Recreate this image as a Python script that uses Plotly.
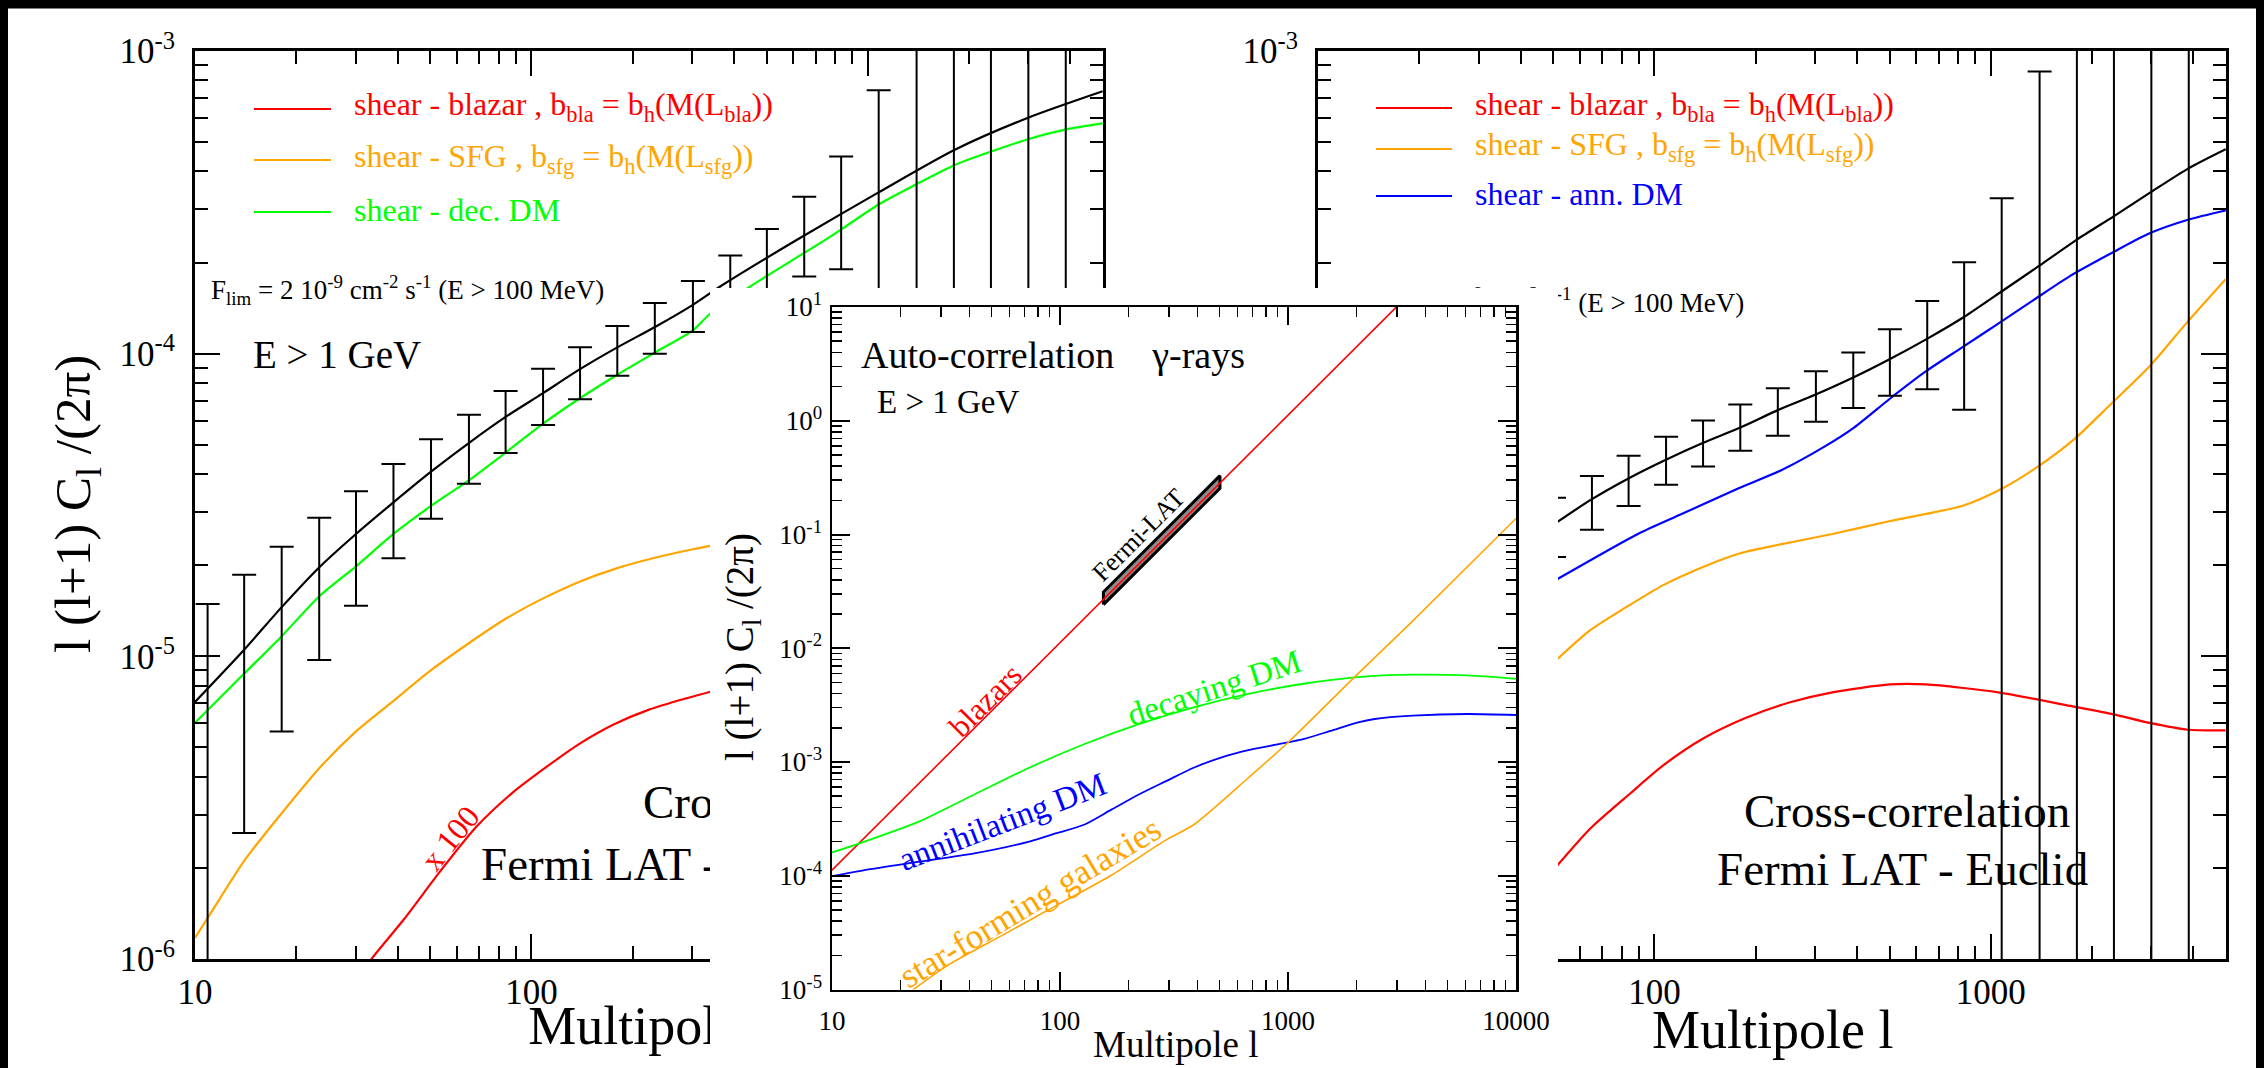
import numpy as np
import plotly.graph_objects as go

W, H = 2264, 1068
FONT = "Liberation Serif, Times New Roman, serif"
RED, ORANGE, GREEN, BLUE, BLACK = "#ff0000", "#ffa500", "#00ff00", "#0000ff", "#000000"

# ---------------- data : left panel (shear x decaying DM) ----------------
ell_bins = [10.9, 14.0, 18.1, 23.4, 30.1, 38.9, 50.3, 65.2, 83.8, 108.3, 139.5, 180.0,
            232.7, 302.0, 390.0, 501.0, 647.0, 833.0, 1077.0, 1396.0, 1802.0, 2322.0,
            3000.0, 3875.0]
left_err_top = [1.49e-5, 1.86e-5, 2.30e-5, 2.87e-5, 3.51e-5, 4.32e-5, 5.21e-5, 6.28e-5,
                7.53e-5, 8.91e-5, 1.05e-4, 1.234e-4, 1.469e-4, 1.739e-4, 2.11e-4, 2.58e-4,
                3.30e-4, 4.48e-4, 7.42e-4, 1e-2, 1e-2, 1e-2, 1e-2, 1e-2]
left_err_bot = [1e-8, 2.61e-6, 5.65e-6, 9.73e-6, 1.47e-5, 2.11e-5, 2.85e-5, 3.72e-5,
                4.70e-5, 5.81e-5, 7.07e-5, 8.46e-5, 1.00e-4, 1.18e-4, 1.38e-4, 1.6e-4,
                1.8e-4, 1.9e-4, 1e-8, 1e-8, 1e-8, 1e-8, 1e-8, 1e-8]

left_tot_l = [10, 14.0, 18.1, 23.3, 30.1, 38.9, 50.3, 65.3, 83.6, 108, 139, 180, 233,
              302, 363, 614, 1076, 1807, 3008, 4989]
left_tot_c = [7.07e-6, 1.052e-5, 1.454e-5, 1.959e-5, 2.537e-5, 3.227e-5, 4.075e-5, 5.077e-5,
              6.17e-5, 7.39e-5, 8.87e-5, 1.049e-4, 1.225e-4, 1.45e-4, 1.664e-4,
              2.374e-4, 3.41e-4, 4.71e-4, 6.03e-4, 7.36e-4]

left_dm_l = [10, 14, 18.1, 23.3, 30.1, 38.9, 50.3, 65.3, 83.6, 108, 139, 180, 233, 302, 339,
             446, 737, 832, 1076, 1398, 1807, 2325, 3008, 3887, 4989]
left_dm_c = [6.03e-6, 8.77e-6, 1.166e-5, 1.571e-5, 1.983e-5, 2.537e-5, 3.14e-5, 3.82e-5,
             4.70e-5, 5.86e-5, 7.11e-5, 8.52e-5, 1.009e-4, 1.194e-4, 1.352e-4, 1.665e-4,
             2.355e-4, 2.57e-4, 3.112e-4, 3.636e-4, 4.195e-4, 4.653e-4, 5.121e-4, 5.508e-4,
             5.768e-4]

left_sfg_l = [10, 10.87, 14, 18.1, 23.3, 30.1, 38.9, 50.3, 65.3, 83.6, 108, 139, 180, 233,
              302, 350]
left_sfg_c = [1.175e-6, 1.358e-6, 2.109e-6, 3.031e-6, 4.246e-6, 5.648e-6, 7.129e-6, 9.00e-6,
              1.107e-5, 1.328e-5, 1.551e-5, 1.765e-5, 1.957e-5, 2.117e-5, 2.258e-5, 2.33e-5]

left_bla_l = [30.0, 33.5, 41.9, 53.6, 68.6, 87.8, 112.4, 137.0, 175.5, 224.6, 287.6, 350]
left_bla_c = [8.5e-7, 1.002e-6, 1.358e-6, 1.951e-6, 2.734e-6, 3.54e-6, 4.36e-6, 5.09e-6,
              5.95e-6, 6.68e-6, 7.26e-6, 7.7e-6]

# ---------------- data : right panel (shear x annihilating DM) ----------------
right_bins = ell_bins[6:]
right_err_top = [3.34e-5, 3.94e-5, 4.60e-5, 5.31e-5, 6.01e-5, 6.79e-5, 7.69e-5, 8.75e-5,
                 1.009e-4, 1.203e-4, 1.492e-4, 2.005e-4, 3.264e-4, 8.555e-4, 1e-2, 1e-2,
                 1e-2, 1e-2]
right_err_bot = [2.13e-5, 2.62e-5, 3.14e-5, 3.69e-5, 4.24e-5, 4.78e-5, 5.36e-5, 5.96e-5,
                 6.61e-5, 7.26e-5, 7.63e-5, 6.53e-5, 1e-8, 1e-8, 1e-8, 1e-8, 1e-8, 1e-8]

right_tot_l = [51.5, 64.1, 83.7, 108.2, 139.7, 180, 232, 299, 387, 500, 646, 834, 1079, 1394,
               1793, 2318, 2981, 3856, 4990]
right_tot_c = [2.78e-5, 3.268e-5, 3.87e-5, 4.462e-5, 5.077e-5, 5.70e-5, 6.496e-5, 7.296e-5,
               8.307e-5, 9.583e-5, 1.119e-4, 1.324e-4, 1.608e-4, 1.953e-4, 2.373e-4, 2.843e-4,
               3.41e-4, 4.088e-4, 4.738e-4]

right_dm_l = [51.5, 89.3, 120, 178, 239, 322, 392, 502, 642, 822, 1052, 1345, 1722, 2316,
              2964, 3856, 4990]
right_dm_c = [1.80e-5, 2.537e-5, 2.947e-5, 3.589e-5, 4.128e-5, 4.95e-5, 5.70e-5, 7.11e-5,
              8.75e-5, 1.049e-4, 1.257e-4, 1.508e-4, 1.807e-4, 2.168e-4, 2.499e-4, 2.771e-4,
              2.972e-4]

right_sfg_l = [51.5, 64.6, 82.9, 106.6, 140, 180, 239, 338, 502, 825, 1077, 1380, 1767, 2255,
               2969, 3808, 4990]
right_sfg_c = [9.8e-6, 1.222e-5, 1.459e-5, 1.722e-5, 1.978e-5, 2.191e-5, 2.348e-5, 2.537e-5,
               2.801e-5, 3.144e-5, 3.578e-5, 4.236e-5, 5.21e-5, 6.754e-5, 9.10e-5, 1.259e-4,
               1.761e-4]

right_bla_l = [51.5, 64.6, 84.9, 106.6, 140, 187.3, 251.6, 338, 502, 642, 1052, 1722, 2316,
               2964, 3856, 4990]
right_bla_c = [2.04e-6, 2.704e-6, 3.53e-6, 4.377e-6, 5.362e-6, 6.264e-6, 7.036e-6, 7.605e-6,
               8.075e-6, 8.075e-6, 7.605e-6, 6.857e-6, 6.43e-6, 6.026e-6, 5.722e-6, 5.692e-6]

# ---------------- data : inset (auto-correlation) ----------------
auto_bla_l = [10, 100, 1000, 3000]
auto_bla_c = [1.12e-4, 1.12e-2, 1.12, 10.08]
fermi_l = [155, 503]
fermi_lo = [0.0242, 0.2550]
fermi_hi = [0.0312, 0.3290]

auto_dec_l = [10, 13.9, 24.2, 42.1, 73.3, 127.4, 221.7, 385.6, 670, 1165, 2028, 3527, 6137, 10000]
auto_dec_c = [1.605e-4, 1.998e-4, 3.006e-4, 5.176e-4, 8.907e-4, 1.433e-3, 2.154e-3, 3.027e-3,
              3.972e-3, 4.873e-3, 5.581e-3, 5.858e-3, 5.775e-3, 5.39e-3]

auto_ann_l = [10, 13.9, 24.2, 42.1, 73.3, 96.6, 127.4, 168, 221.7, 292, 385.6, 508, 670, 833,
              1165, 1538, 2028, 2397, 3527, 6137, 10000]
auto_ann_c = [9.91e-5, 1.121e-4, 1.329e-4, 1.572e-4, 1.998e-4, 2.367e-4, 2.806e-4, 3.811e-4,
              5.176e-4, 6.79e-4, 8.907e-4, 1.093e-3, 1.27e-3, 1.385e-3, 1.586e-3, 1.88e-3,
              2.23e-3, 2.388e-3, 2.553e-3, 2.642e-3, 2.589e-3]

auto_sfg_l = [20.0, 22.3, 31.9, 55.5, 96.6, 168, 292, 385.6, 670, 1000, 1977, 3527, 10000]
auto_sfg_c = [8.3e-6, 9.70e-6, 1.614e-5, 2.975e-5, 5.486e-5, 1.011e-4, 2.065e-4, 2.806e-4,
              7.27e-4, 1.483e-3, 5.69e-3, 1.738e-2, 1.384e-1]

main_xticks = [10, 100, 1000]
main_yticks = [1e-6, 1e-5, 1e-4, 1e-3]
main_ytext = ["10<sup>-6</sup>", "10<sup>-5</sup>", "10<sup>-4</sup>", "10<sup>-3</sup>"]
inset_xticks = [10, 100, 1000, 10000]
inset_yticks = [1e-5, 1e-4, 1e-3, 1e-2, 1e-1, 1, 10]
inset_ytext = ["10<sup>-5</sup>", "10<sup>-4</sup>", "10<sup>-3</sup>", "10<sup>-2</sup>",
               "10<sup>-1</sup>", "10<sup>0</sup>", "10<sup>1</sup>"]

# ---------------- layout geometry (pixels) ----------------
LEFT_X = (195, 1103)
RIGHT_X = (1318, 2226)
MAIN_Y = (51, 959)
TITLE_Y = (962, H)          # strip under the left panel holding its x title
INSET_X = (832, 1516)
INSET_Y = (307, 989.5)
BOX_X = (710, 1558)
BOX_Y = (288, H)
LMAX = np.log10(5000)


def fx(p):
    return p / W


def fy(p):
    return 1 - p / H


def minor_vals(decades, upto=10):
    out = []
    for d in decades:
        for k in range(2, 10):
            if k * d <= upto:
                out.append(k * d)
    return out


fig = go.Figure()


def line(x, y, color, width, xa, ya, smooth=True):
    fig.add_trace(go.Scatter(x=x, y=y, mode="lines",
                             line=dict(color=color, width=width,
                                       shape="spline" if smooth else "linear", smoothing=0.7),
                             xaxis=xa, yaxis=ya, showlegend=False, hoverinfo="skip"))


def errbars(ls, tops, bots, xa, ya):
    tops = np.array(tops)
    bots = np.array(bots)
    mid = np.sqrt(tops * bots)
    fig.add_trace(go.Scatter(
        x=ls, y=mid, mode="markers", marker=dict(size=1, color="rgba(0,0,0,0)"),
        error_y=dict(type="data", symmetric=False, array=tops - mid, arrayminus=mid - bots,
                     color=BLACK, thickness=2, width=12),
        xaxis=xa, yaxis=ya, showlegend=False, hoverinfo="skip"))


def lx_main(p, x0):
    return 10 ** (1 + (p - x0) / 908.0 * (LMAX - 1))


def cy_main(p):
    return 10 ** (-3 - (p - MAIN_Y[0]) / (MAIN_Y[1] - MAIN_Y[0]) * 3)


def ptext(x, y, text, size, color, xa, ya, pos="middle right"):
    fig.add_trace(go.Scatter(x=[x], y=[y], mode="text", text=[text],
                             textposition=pos, cliponaxis=False,
                             textfont=dict(family=FONT, size=size, color=color),
                             xaxis=xa, yaxis=ya, showlegend=False, hoverinfo="skip"))


# ---- left panel traces (subplot xy) ----
line(left_sfg_l, left_sfg_c, ORANGE, 2.2, "x", "y")
line(left_bla_l, left_bla_c, RED, 2.2, "x", "y")
line(left_dm_l, left_dm_c, GREEN, 2.2, "x", "y")
line(left_tot_l, left_tot_c, BLACK, 2.2, "x", "y")
errbars(ell_bins, left_err_top, left_err_bot, "x", "y")
ptext(lx_main(643, LEFT_X[0]), cy_main(806), "Cross-correlation", 47, BLACK, "x", "y")
ptext(lx_main(481, LEFT_X[0]), cy_main(868), "Fermi LAT - Euclid", 47, BLACK, "x", "y")

# ---- right panel traces (subplot x2y2) ----
line(right_sfg_l, right_sfg_c, ORANGE, 2.2, "x2", "y2")
line(right_bla_l, right_bla_c, RED, 2.2, "x2", "y2")
line(right_dm_l, right_dm_c, BLUE, 2.2, "x2", "y2")
line(right_tot_l, right_tot_c, BLACK, 2.2, "x2", "y2")
errbars(right_bins, right_err_top, right_err_bot, "x2", "y2")
ptext(lx_main(1351, RIGHT_X[0]), cy_main(305),
      "F<sub>lim</sub> = 2 10<sup>-9</sup> cm<sup>-2</sup> s<sup>-1</sup> (E > 100 MeV)",
      27, BLACK, "x2", "y2")
ptext(lx_main(1387, RIGHT_X[0]), cy_main(376), "E > 1 GeV", 39, BLACK, "x2", "y2")

# ---- x title of the left panel (subplot x3y3, below the white box) ----
ptext(0.5, (H - 1030) / (H - TITLE_Y[0]), "Multipole l", 54, BLACK, "x3", "y3",
      pos="middle center")

# ---- white box behind the inset (subplot x4y4, drawn above the two panels) ----
fig.add_trace(go.Scatter(x=[0, 1, 1, 0, 0], y=[0, 0, 1, 1, 0], mode="lines", fill="toself",
                         fillcolor="white", line=dict(width=0, color="white"),
                         xaxis="x4", yaxis="y4", showlegend=False, hoverinfo="skip"))

# ---- inset traces (subplot x5y5) ----
fig.add_trace(go.Scatter(x=[fermi_l[0], fermi_l[1], fermi_l[1], fermi_l[0], fermi_l[0]],
                         y=[fermi_lo[0], fermi_lo[1], fermi_hi[1], fermi_hi[0], fermi_lo[0]],
                         mode="lines", fill="toself", fillcolor="#8c8c8c",
                         line=dict(color=BLACK, width=3),
                         xaxis="x5", yaxis="y5", showlegend=False, hoverinfo="skip"))
line(auto_bla_l, auto_bla_c, RED, 1.6, "x5", "y5", smooth=False)
line(auto_dec_l, auto_dec_c, GREEN, 1.8, "x5", "y5")
line(auto_ann_l, auto_ann_c, BLUE, 1.8, "x5", "y5")
line(auto_sfg_l, auto_sfg_c, ORANGE, 1.6, "x5", "y5")


# ---------------- axes ----------------
def main_x(dom, anchor):
    return dict(type="log", range=[1, LMAX], domain=[fx(dom[0]), fx(dom[1])], anchor=anchor,
                showline=True, linewidth=3, linecolor=BLACK, mirror="ticks",
                ticks="inside", ticklen=25, tickwidth=2, tickcolor=BLACK,
                tickmode="array", tickvals=main_xticks, ticktext=[str(v) for v in main_xticks],
                tickfont=dict(family=FONT, size=35, color=BLACK), ticklabelstandoff=0,
                minor=dict(ticks="inside", ticklen=13, tickwidth=2, tickcolor=BLACK,
                           tickmode="array", tickvals=minor_vals([10, 100, 1000], 4000)),
                showgrid=False, zeroline=False, automargin=False, fixedrange=True)


def main_y(anchor):
    return dict(type="log", range=[-6, -3], domain=[fy(MAIN_Y[1]), fy(MAIN_Y[0])],
                anchor=anchor,
                showline=True, linewidth=3, linecolor=BLACK, mirror="ticks",
                ticks="inside", ticklen=25, tickwidth=2, tickcolor=BLACK,
                tickmode="array", tickvals=main_yticks, ticktext=main_ytext,
                tickfont=dict(family=FONT, size=35, color=BLACK), ticklabelstandoff=10,
                minor=dict(ticks="inside", ticklen=13, tickwidth=2, tickcolor=BLACK,
                           tickmode="array", tickvals=minor_vals([1e-6, 1e-5, 1e-4], 1)),
                showgrid=False, zeroline=False, automargin=False, fixedrange=True)


def hidden(dom, anchor, horizontal):
    d = [fx(dom[0]), fx(dom[1])] if horizontal else [fy(dom[1]), fy(dom[0])]
    return dict(domain=d, range=[0, 1], visible=False, anchor=anchor, fixedrange=True)


inset_x = dict(type="log", range=[1, 4], domain=[fx(INSET_X[0]), fx(INSET_X[1])], anchor="y5",
               showline=True, linewidth=2.5, linecolor=BLACK, mirror="ticks",
               ticks="inside", ticklen=18, tickwidth=2, tickcolor=BLACK,
               tickmode="array", tickvals=inset_xticks, ticktext=[str(v) for v in inset_xticks],
               tickfont=dict(family=FONT, size=27, color=BLACK), ticklabelstandoff=6,
               minor=dict(ticks="inside", ticklen=10, tickwidth=1.5, tickcolor=BLACK,
                          tickmode="array", tickvals=minor_vals([10, 100, 1000], 9000)),
               showgrid=False, zeroline=False, automargin=False, fixedrange=True)
inset_y = dict(type="log", range=[-5, 1], domain=[fy(INSET_Y[1]), fy(INSET_Y[0])], anchor="x5",
               showline=True, linewidth=2.5, linecolor=BLACK, mirror="ticks",
               ticks="inside", ticklen=18, tickwidth=2, tickcolor=BLACK,
               tickmode="array", tickvals=inset_yticks, ticktext=inset_ytext,
               tickfont=dict(family=FONT, size=27, color=BLACK), ticklabelstandoff=2,
               minor=dict(ticks="inside", ticklen=10, tickwidth=1.5, tickcolor=BLACK,
                          tickmode="array",
                          tickvals=minor_vals([1e-5, 1e-4, 1e-3, 1e-2, 1e-1, 1], 10)),
               showgrid=False, zeroline=False, automargin=False, fixedrange=True)


# ---------------- annotations ----------------
def ann(x, y, text, size, color=BLACK, xanchor="left", angle=0):
    return dict(x=fx(x), y=fy(y), xref="paper", yref="paper", text=text, showarrow=False,
                font=dict(family=FONT, size=size, color=color), xanchor=xanchor,
                yanchor="middle", textangle=angle)


bla_txt = "shear - blazar , b<sub>bla</sub> = b<sub>h</sub>(M(L<sub>bla</sub>))"
sfg_txt = "shear - SFG , b<sub>sfg</sub> = b<sub>h</sub>(M(L<sub>sfg</sub>))"
ylab = "l (l+1) C<sub>l</sub> /(2\u03c0)"
nb = "\u00a0"

annotations = [
    # left panel legend
    ann(352, 107, bla_txt, 32, RED),
    ann(352, 158, sfg_txt, 32, ORANGE),
    ann(352, 210, "shear - dec. DM", 32, GREEN),
    # right panel legend
    ann(1473, 106, bla_txt, 32, RED),
    ann(1473, 147, sfg_txt, 32, ORANGE),
    ann(1473, 194, "shear - ann. DM", 32, BLUE),
    # left panel texts
    ann(209, 290, "F<sub>lim</sub> = 2 10<sup>-9</sup> cm<sup>-2</sup> s<sup>-1</sup> (E > 100 MeV)",
        27),
    ann(251, 354, "E > 1 GeV", 39),
    ann(450, 838, "x 100", 32, RED, "center", -51),
    ann(77, 504, ylab, 51, BLACK, "center", -90),
    # right panel texts
    ann(1742, 811, "Cross-correlation", 47),
    ann(1715, 869, "Fermi LAT - Euclid", 47),
    ann(1773, 1030, "Multipole l", 54, BLACK, "center"),
    # inset texts
    ann(859, 355, "Auto-correlation " + nb * 3 + "\u03b3-rays", 38),
    ann(875, 402, "E > 1 GeV", 33),
    ann(985, 700, "blazars", 31, RED, "center", -45),
    ann(1138, 535, "Fermi-LAT", 26, BLACK, "center", -45),
    ann(1214, 688, "decaying DM", 33, GREEN, "center", -18),
    ann(1002, 822, "annihilating DM", 33, BLUE, "center", -21),
    ann(1030, 902, "star-forming galaxies", 35, ORANGE, "center", -31),
    ann(742, 647, ylab, 39, BLACK, "center", -90),
    ann(1175, 1044, "Multipole l", 37, BLACK, "center"),
]


# ---------------- shapes: legend samples and slide frame ----------------
def seg(x0, x1, y, color):
    return dict(type="line", xref="paper", yref="paper", x0=fx(x0), x1=fx(x1), y0=fy(y), y1=fy(y),
                line=dict(color=color, width=2.2), layer="above")


def band(x0, x1, y0, y1):
    return dict(type="rect", xref="paper", yref="paper", x0=x0, x1=x1, y0=y0, y1=y1,
                fillcolor=BLACK, line=dict(width=0), layer="above")


shapes = [
    seg(254, 331, 109, RED), seg(254, 331, 160, ORANGE), seg(254, 331, 212, GREEN),
    seg(1376, 1452, 108, RED), seg(1376, 1452, 149, ORANGE), seg(1376, 1452, 196, BLUE),
    band(0, 1, fy(8.5), 1.01),
    band(-0.01, fx(8), -0.01, 1.01),
    band(fx(2256), 1.01, -0.01, 1.01),
]

fig.update_layout(
    template="none",
    width=W, height=H, autosize=False,
    margin=dict(l=0, r=0, t=0, b=0, pad=0),
    paper_bgcolor="white", plot_bgcolor="white",
    font=dict(family=FONT, color=BLACK),
    showlegend=False,
    xaxis=main_x(LEFT_X, "y"), yaxis=main_y("x"),
    xaxis2=main_x(RIGHT_X, "y2"), yaxis2=main_y("x2"),
    xaxis3=hidden(LEFT_X, "y3", True), yaxis3=hidden(TITLE_Y, "x3", False),
    xaxis4=hidden(BOX_X, "y4", True), yaxis4=hidden(BOX_Y, "x4", False),
    xaxis5=inset_x, yaxis5=inset_y,
    annotations=annotations,
    shapes=shapes,
)

fig.write_html("out.html", config={"displayModeBar": False, "staticPlot": True})
